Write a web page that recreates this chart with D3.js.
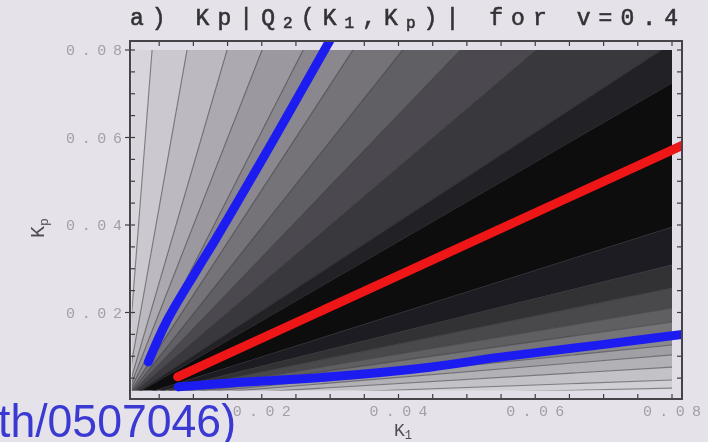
<!DOCTYPE html>
<html>
<head>
<meta charset="utf-8">
<script src="https://cdn.jsdelivr.net/npm/d3@7"></script>
<style>
  html, body { margin: 0; padding: 0; background: #e6e2ea; }
  svg { display: block; }
</style>
</head>
<body>
<div class="chart"></div>
<script>
// ---- data ----
var xTickLabels = [0.02, 0.04, 0.06, 0.08];
var yTickLabels = [0.02, 0.04, 0.06, 0.08];

// contour boundaries, as rays Kp = r*K1 (steep -> shallow)
var bandRatios = [20.2, 8.82, 5.36, 3.99, 3.07, 2.40, 1.97, 1.63, 1.33, 1.02, 0.906,
                  0.494, 0.386, 0.32, 0.263, 0.223, 0.186, 0.157, 0.129, 0.094, 0.057, 0.034];
// gray level of each band between those rays
var bandGrays = ["#d8d6dc", "#cbc9cf", "#bcbac0", "#acaab0", "#9b999f", "#8a888e", "#747278",
                 "#605e64", "#4c4a50", "#38373c", "#222125", "#0a0a0c", "#1c1c20", "#313136",
                 "#48484c", "#5e5e62", "#747478", "#8a8a8e", "#a0a0a4", "#b2b2b6", "#c3c3c7",
                 "#d0d0d4", "#dcdce0"];

// curves
var blueUpper = [[0.0034, 0.0087], [0.0062, 0.0183], [0.0105, 0.0297], [0.0132, 0.0366],
                 [0.0149, 0.0411], [0.0217, 0.0594], [0.0300, 0.0823]];
var redLine   = [[0.0077, 0.0053], [0.0815, 0.0582]];
var blueLower = [[0.0078, 0.0030], [0.0154, 0.0039], [0.0300, 0.0053], [0.0446, 0.0075],
                 [0.0549, 0.0098], [0.0695, 0.0126], [0.0815, 0.0150]];

var plotRangeK1 = [0.001, 0.08];
var plotRangeKp = [0.0022, 0.08];

// ---- layout ----
var W = 708, H = 442;
var frame = {x0: 130, x1: 682, y0: 41, y1: 399};

var x = d3.scaleLinear().domain([0, 0.08]).range([125, 672]);
var y = d3.scaleLinear().domain([0, 0.08]).range([400, 50]);

var svg = d3.select("div.chart")
            .append("svg")
            .attr("width", W)
            .attr("height", H);

var defs = svg.append("defs");
defs.append("filter").attr("id", "soft")
    .attr("x", "-5%").attr("y", "-5%").attr("width", "110%").attr("height", "110%")
    .append("feGaussianBlur").attr("stdDeviation", 0.7);

defs.append("clipPath").attr("id", "plotclip")
    .append("rect")
    .attr("x", x(plotRangeK1[0]))
    .attr("y", y(plotRangeKp[1]))
    .attr("width", x(plotRangeK1[1]) - x(plotRangeK1[0]))
    .attr("height", y(plotRangeKp[0]) - y(plotRangeKp[1]));

defs.append("clipPath").attr("id", "frameclip")
    .append("rect")
    .attr("x", frame.x0).attr("y", frame.y0)
    .attr("width", frame.x1 - frame.x0).attr("height", frame.y1 - frame.y0);

var g = svg.append("g").attr("filter", "url(#soft)");

// frame background (light strip round the density area)
g.append("rect")
  .attr("x", frame.x0).attr("y", frame.y0)
  .attr("width", frame.x1 - frame.x0).attr("height", frame.y1 - frame.y0)
  .attr("fill", "#e2dee7");

// far point of a ray Kp = r*K1
function farPoint(r) {
  if (r === Infinity) return [0, 1];
  if (r === 0) return [1, 0];
  return r >= 1 ? [1 / r, 1] : [1, r];
}

var edges = [Infinity].concat(bandRatios).concat([0]);
var bands = bandGrays.map(function(c, i) {
  var hi = edges[i], lo = edges[i + 1];
  var pts = [[0, 0], farPoint(hi)];
  if (hi >= 1 && lo < 1) pts.push([1, 1]);
  pts.push(farPoint(lo));
  return {color: c, pts: pts};
});

var plot = g.append("g").attr("clip-path", "url(#plotclip)");

plot.selectAll(".band")
    .data(bands)
    .enter()
    .append("path")
    .attr("class", "band")
    .attr("d", function(d) {
      return "M" + d.pts.map(function(p) { return x(p[0]) + "," + y(p[1]); }).join("L") + "Z";
    })
    .attr("fill", function(d) { return d.color; })
    .attr("stroke", function(d) { return d.color; })
    .attr("stroke-width", 0.5);

// contour lines
plot.selectAll(".contour")
    .data(bandRatios)
    .enter()
    .append("line")
    .attr("class", "contour")
    .attr("x1", x(0)).attr("y1", y(0))
    .attr("x2", function(r) { return x(farPoint(r)[0]); })
    .attr("y2", function(r) { return y(farPoint(r)[1]); })
    .attr("stroke", "#3a383e")
    .attr("stroke-opacity", 0.55)
    .attr("stroke-width", 1.1);

// ticks, inward on all sides, every 0.005
var minor = x.ticks(16).filter(function(v) { return v > 0; });
var tickG = g.append("g").attr("stroke", "#3c3c40").attr("stroke-width", 1.2);
minor.forEach(function(v) {
  tickG.append("line").attr("x1", x(v)).attr("x2", x(v)).attr("y1", frame.y1).attr("y2", frame.y1 - 5);
  tickG.append("line").attr("x1", x(v)).attr("x2", x(v)).attr("y1", frame.y0).attr("y2", frame.y0 + 5);
  tickG.append("line").attr("y1", y(v)).attr("y2", y(v)).attr("x1", frame.x0).attr("x2", frame.x0 + 5);
  tickG.append("line").attr("y1", y(v)).attr("y2", y(v)).attr("x1", frame.x1).attr("x2", frame.x1 - 5);
});
yTickLabels.forEach(function(v) {
  tickG.append("line").attr("y1", y(v)).attr("y2", y(v)).attr("x1", frame.x0 - 5).attr("x2", frame.x0);
});

// curves (clipped to the frame)
var lineGen = d3.line()
    .x(function(d) { return x(d[0]); })
    .y(function(d) { return y(d[1]); })
    .curve(d3.curveCatmullRom);

var curves = g.append("g").attr("clip-path", "url(#frameclip)");
[[blueUpper, "#1f1ff0"], [blueLower, "#1f1ff0"], [redLine, "#ee1414"]].forEach(function(c) {
  curves.append("path")
    .attr("d", lineGen(c[0]))
    .attr("fill", "none")
    .attr("stroke", c[1])
    .attr("stroke-width", 9)
    .attr("stroke-linecap", "round");
});

// frame
g.append("rect")
  .attr("x", frame.x0).attr("y", frame.y0)
  .attr("width", frame.x1 - frame.x0).attr("height", frame.y1 - frame.y0)
  .attr("fill", "none")
  .attr("stroke", "#444448")
  .attr("stroke-width", 2);

// tick labels
var fmt = d3.format(".2f");
g.selectAll(".ylab")
    .data(yTickLabels)
    .enter()
    .append("text")
    .attr("x", 122)
    .attr("y", function(d) { return y(d) + 5; })
    .attr("text-anchor", "end")
    .attr("textLength", 56)
    .attr("lengthAdjust", "spacing")
    .attr("font-family", "Liberation Mono, monospace")
    .attr("font-size", 15)
    .attr("fill", "#a29ea8")
    .text(fmt);

g.selectAll(".xlab")
    .data(xTickLabels)
    .enter()
    .append("text")
    .attr("x", function(d) { return x(d) - 29; })
    .attr("y", 416)
    .attr("textLength", 58)
    .attr("lengthAdjust", "spacing")
    .attr("font-family", "Liberation Mono, monospace")
    .attr("font-size", 15)
    .attr("fill", "#a29ea8")
    .text(fmt);

// axis titles
var xt = g.append("text")
    .attr("x", 394).attr("y", 436)
    .attr("font-family", "Liberation Mono, monospace")
    .attr("font-size", 18)
    .attr("fill", "#4e4c52");
xt.append("tspan").text("K");
xt.append("tspan").attr("dy", 3).attr("font-size", 12).text("1");

var yt = g.append("text")
    .attr("transform", "translate(44,238) rotate(-90)")
    .attr("font-family", "Liberation Mono, monospace")
    .attr("font-size", 20)
    .attr("fill", "#4e4c52");
yt.append("tspan").text("K");
yt.append("tspan").attr("dy", 4).attr("font-size", 13).text("p");

// title
var title = g.append("text")
    .attr("x", 130).attr("y", 25)
    .attr("textLength", 548)
    .attr("lengthAdjust", "spacing")
    .attr("font-family", "Liberation Mono, monospace")
    .attr("font-size", 23)
    .attr("fill", "#333337")
    .attr("stroke", "#333337")
    .attr("stroke-width", 0.6);
title.append("tspan").text("a)  Kp|Q");
title.append("tspan").attr("dy", 3).attr("font-size", 16).text("2");
title.append("tspan").attr("dy", -3).text("(K");
title.append("tspan").attr("dy", 3).attr("font-size", 16).text("1");
title.append("tspan").attr("dy", -3).text(",K");
title.append("tspan").attr("dy", 3).attr("font-size", 16).text("p");
title.append("tspan").attr("dy", -3).text(")|  for v=0.4");

// overlaid link text at bottom left
svg.append("text")
    .attr("x", -2).attr("y", 437)
    .attr("textLength", 238)
    .attr("lengthAdjust", "spacingAndGlyphs")
    .attr("font-family", "Liberation Sans, Arial, sans-serif")
    .attr("font-size", 46)
    .attr("fill", "#3a3ad2")
    .text("th/0507046)");
</script>
</body>
</html>
